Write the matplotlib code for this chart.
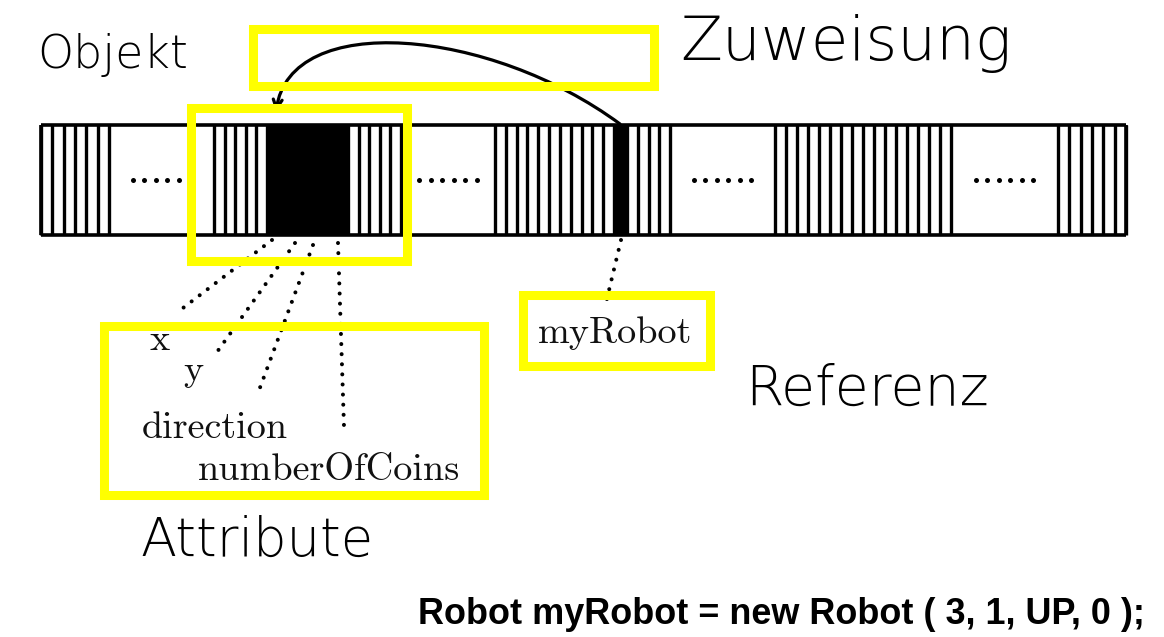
import matplotlib.pyplot as plt
import numpy as np
from matplotlib.patches import Rectangle, FancyArrowPatch
from matplotlib.path import Path

# memory strip: cell kinds and their left/right edges (pixels)
seg_kinds = ["stripes", "gap", "stripes", "block", "stripes", "gap", "stripes",
             "block", "stripes", "gap", "stripes", "gap", "stripes"]
seg_edges = [41, 109, 214, 267, 348, 401, 495, 614, 627, 670, 775, 951, 1058, 1126]
strip_top, strip_bot = 125, 235

# object attributes and where their labels sit
attr_names = ["x", "y", "direction", "numberOfCoins"]
attr_label_xy = [(150, 350), (183, 381), (142, 438), (198, 480)]
attr_line_start = [(272, 240), (295, 243), (313, 245), (338, 243)]
attr_line_end = [(183, 308), (217, 352), (258, 393), (344, 427)]

ref_name = "myRobot"
ref_label_xy = (538, 343)
ref_line = [(621, 240), (605, 307)]

# yellow highlight boxes (left, top, right, bottom)
boxes = [(253, 29, 654, 86), (191, 108, 407, 261),
         (104, 326, 484, 495), (523, 295, 710, 366)]

# handwritten notes: text, left x, baseline y, size
notes = [("Objekt", 37, 68, 33), ("Zuweisung", 680, 60, 44),
         ("Referenz", 745, 405, 40), ("Attribute", 140, 556, 38)]

code_line = "Robot myRobot = new Robot ( 3, 1, UP, 0 );"

fig = plt.figure(figsize=(11.64, 6.37), dpi=100)
ax = fig.add_axes([0, 0, 1, 1])
ax.set_xlim(0, 1164)
ax.set_ylim(637, 0)
ax.axis("off")

ymid = (strip_top + strip_bot) / 2
for kind, x0, x1 in zip(seg_kinds, seg_edges[:-1], seg_edges[1:]):
    if kind == "stripes":
        n = int(round((x1 - x0) / 11.0)) + 1
        ax.vlines(np.linspace(x0, x1, n), strip_top, strip_bot, color="black", lw=2.4)
    elif kind == "block":
        ax.add_patch(Rectangle((x0, strip_top), x1 - x0, strip_bot - strip_top,
                               color="black", lw=0))
    else:
        cx = (x0 + x1) / 2
        ax.plot(cx + (np.arange(6) - 2.5) * 11.5, [ymid] * 6, "o",
                color="black", ms=3.6, mew=0)

ax.hlines([strip_top, strip_bot], seg_edges[0], seg_edges[-1], color="black", lw=2.6)
ax.vlines([seg_edges[0], seg_edges[-1]], strip_top, strip_bot, color="black", lw=2.6)

# dotted connectors
for (x0, y0), (x1, y1) in zip(attr_line_start, attr_line_end):
    ax.plot([x0, x1], [y0, y1], color="black", lw=2.9,
            linestyle=(0, (0.01, 2.5)), dash_capstyle="round")
ax.plot([p[0] for p in ref_line], [p[1] for p in ref_line], color="black", lw=2.9,
        linestyle=(0, (0.01, 2.5)), dash_capstyle="round")

# assignment arc from reference to the object
arc = Path([(620, 124), (490, 28), (290, 10), (276, 112)],
           [Path.MOVETO, Path.CURVE4, Path.CURVE4, Path.CURVE4])
ax.add_patch(FancyArrowPatch(path=arc, arrowstyle="->", mutation_scale=16,
                             color="black", lw=2.3))

for name, (x, y) in zip(attr_names, attr_label_xy):
    ax.text(x, y, name, family="cmr10", fontsize=27.5, va="baseline", color="#111111")
ax.text(ref_label_xy[0], ref_label_xy[1], ref_name, family="cmr10", fontsize=27.5,
        va="baseline", color="#111111")

for l, t, r, b in boxes:
    ax.add_patch(Rectangle((l, t), r - l, b - t, fill=False, edgecolor="#ffff00",
                           lw=6.5, joinstyle="miter", zorder=5))

for txt, x, y, size in notes:
    ax.text(x, y, txt, family="DejaVu Sans", fontweight="light", fontsize=size,
            va="baseline", color="black")

ax.text(1145, 624, code_line, family="Liberation Sans", fontweight="bold",
        fontsize=25.9, ha="right", va="baseline", color="black")

fig.savefig("out.png", dpi=100)
